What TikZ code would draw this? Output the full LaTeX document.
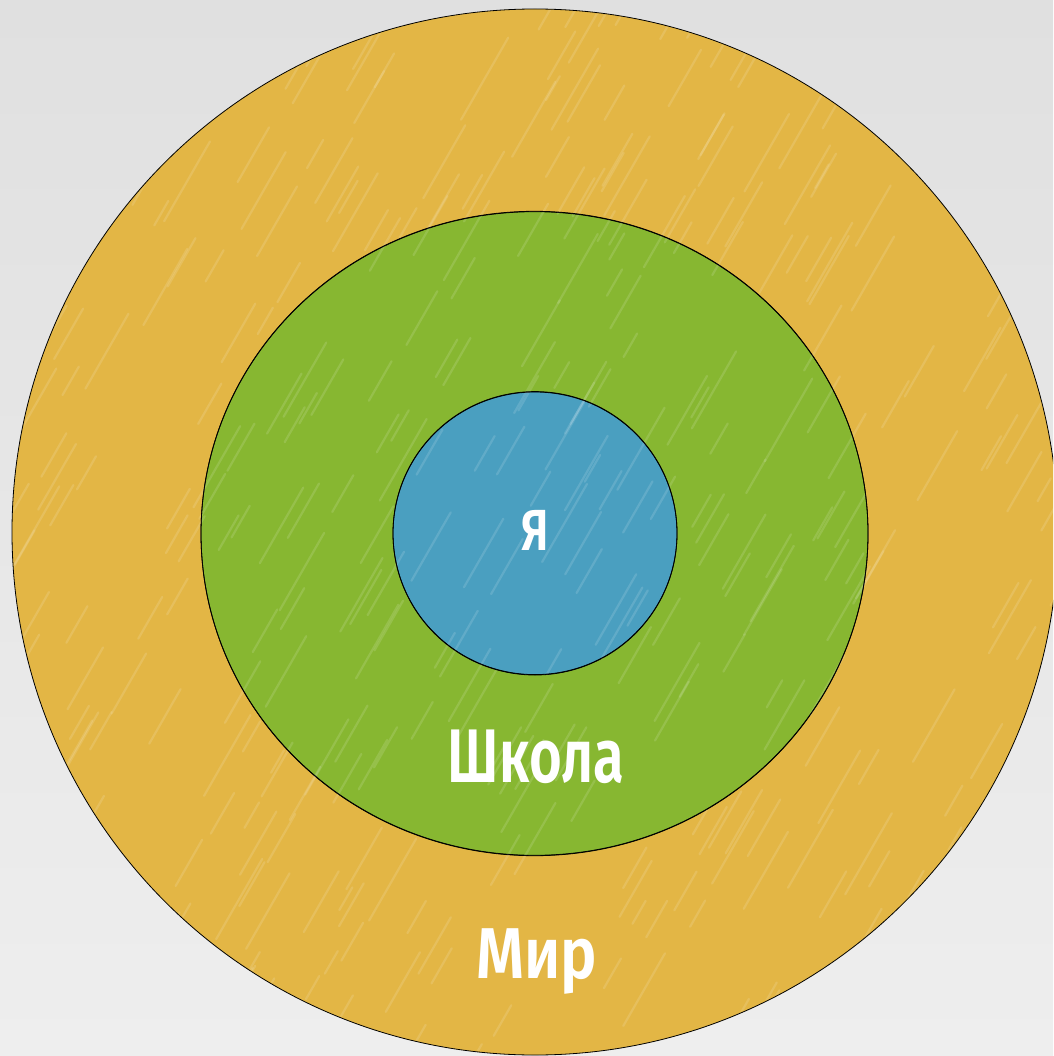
\documentclass[tikz,border=0pt]{standalone}
\usepackage{fontspec}
\usepackage{graphicx}
\setmainfont{Fira Sans}
\newfontfamily\labelfont{Fira Sans}[UprightFont=* SemiBold]
\usetikzlibrary{shapes.geometric}
\definecolor{bgtop}{HTML}{E0E0E0}
\definecolor{bgbot}{HTML}{EEEEEE}
\definecolor{mirfill}{HTML}{E3B645}
\definecolor{schoolfill}{HTML}{87B731}
\definecolor{mefill}{HTML}{4A9FC0}
\tikzset{
  ring/.style={ellipse, draw=black, line width=0.8pt, inner sep=0pt},
  lbl/.style={text=white, inner sep=0pt, anchor=base, font=\labelfont},
  streak/.style={white, opacity=0.13, line width=2.2pt, line cap=round}
}
\begin{document}
\begin{tikzpicture}[x=1pt,y=-1pt]
\useasboundingbox (0,0) rectangle (1053,1056);
\shade[top color=bgtop, bottom color=bgbot] (0,0) rectangle (1053,1056);
\begin{scope}
\clip (0,0) rectangle (1053,1056);
\node[ring, fill=mirfill, minimum width=1046pt, minimum height=1046pt] (mir) at (535,532) {};
\node[ring, fill=schoolfill, minimum width=667pt, minimum height=644pt] (school) at (534.5,533.7) {};
\node[ring, fill=mefill, minimum width=284pt, minimum height=283pt] (me) at (535,533.5) {};
\end{scope}
\begin{scope}
\clip (535,532) circle [radius=522pt];
\pgfmathsetseed{11}
\foreach \i in {1,...,420}{
  \pgfmathsetmacro{\sx}{rnd*1100}
  \pgfmathsetmacro{\sy}{rnd*1100}
  \pgfmathsetmacro{\sl}{25+rnd*70}
  \draw[streak] (\sx,\sy) -- ++({0.5*\sl},{-0.87*\sl});
}
\end{scope}
\draw[line width=0.8pt] (school.north) arc[start angle=90, end angle=450, x radius=333.5pt, y radius=322pt];
\draw[line width=0.8pt] (me.north) arc[start angle=90, end angle=450, x radius=142pt, y radius=141.5pt];
\node[lbl, font=\labelfont\fontsize{58}{60}\selectfont] (tme) at (535,550) {\scalebox{0.78}[1]{Я}};
\node[lbl, font=\labelfont\fontsize{76}{80}\selectfont] (tschool) at (536,782) {\scalebox{0.74}[1]{Школа}};
\node[lbl, font=\labelfont\fontsize{72}{76}\selectfont] (tmir) at (537,978) {\scalebox{0.85}[1]{Мир}};
\end{tikzpicture}
\end{document}
